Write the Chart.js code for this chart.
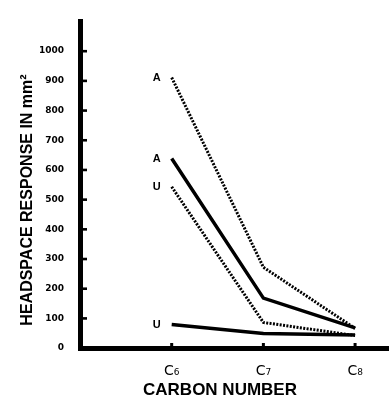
<!DOCTYPE html>
<html><head><meta charset="utf-8">
<script src="https://cdn.jsdelivr.net/npm/chart.js@4"></script>
<style>html,body{margin:0;padding:0;background:#fff}#wrap{width:389px;height:400px}</style>
</head><body><div id="wrap"><canvas id="c"></canvas></div>
<script>
const carbonNumbers = [6, 7, 8];
const carbonLabels = ['C\u2086', 'C\u2087', 'C\u2088'];
const aDotted = [911, 272, 66];
const aSolid = [638, 168, 68];
const uDotted = [543, 86, 42];
const uSolid = [79, 49, 44];
const seriesLetters = ['A', 'A', 'U', 'U'];
const yTicks = [0,100,200,300,400,500,600,700,800,900,1000];
const yTitle = 'HEADSPACE RESPONSE IN mm\u00B2';
const xTitle = 'CARBON NUMBER';

function pts(v){ return carbonNumbers.map((c,i)=>({x:c,y:v[i]})); }
const F = "'Liberation Sans', Arial, sans-serif";
const FD = "'DejaVu Sans', sans-serif";

const tickPlugin = {
  id:'tickPlugin',
  afterDraw(chart){
    const ctx = chart.ctx, ys = chart.scales.y, xs = chart.scales.x, a = chart.chartArea;
    ctx.save();
    ctx.fillStyle = '#000';
    yTicks.forEach(v=>{ if(v===0) return; const y = ys.getPixelForValue(v); ctx.fillRect(a.left, y-1.2, 7, 2.6); });
    carbonNumbers.forEach(c=>{ const x = xs.getPixelForValue(c); ctx.fillRect(x-1.5, a.bottom-5, 3, 5); });
    ctx.font = 'bold 11px ' + F;
    ctx.textAlign = 'right'; ctx.textBaseline = 'middle';
    chart.data.datasets.forEach((ds,i)=>{
      const p = ds.data[0];
      ctx.fillText(seriesLetters[i], xs.getPixelForValue(p.x) - 11, ys.getPixelForValue(p.y));
    });
    // axis titles
    ctx.textAlign = 'center';
    ctx.font = 'bold 17px ' + F;
    ctx.fillText(xTitle, 220, 390);
    ctx.translate(28, 200);
    ctx.rotate(-Math.PI/2);
    ctx.font = 'bold 16px ' + F;
    ctx.fillText(yTitle, 0, 0);
    ctx.restore();
  }
};

new Chart(document.getElementById('c'), {
  type:'line',
  data:{ datasets:[
    {label:'A dotted', data:pts(aDotted), borderColor:'#000', borderWidth:3, borderDash:[2,1.4], pointRadius:0, tension:0},
    {label:'A solid', data:pts(aSolid), borderColor:'#000', borderWidth:3.5, pointRadius:0, tension:0},
    {label:'U dotted', data:pts(uDotted), borderColor:'#000', borderWidth:3, borderDash:[2,1.4], pointRadius:0, tension:0},
    {label:'U solid', data:pts(uSolid), borderColor:'#000', borderWidth:3.5, pointRadius:0, tension:0}
  ]},
  options:{
    responsive:true, maintainAspectRatio:false, animation:false,
    layout:{padding:{top:14,right:0,left:0,bottom:0}},
    plugins:{legend:{display:false}, tooltip:{enabled:false}},
    scales:{
      x:{ type:'linear', min:5.0, max:8.37,
        afterBuildTicks(s){ s.ticks = carbonNumbers.map(v=>({value:v})); },
        afterFit(s){ s.height = 52; },
        grid:{display:true, drawOnChartArea:false, drawTicks:false},
        border:{display:true, width:5, color:'#000'},
        ticks:{ padding:15, color:'#000', font:{family:FD, size:14}, 
          callback:(v)=>{ const i = carbonNumbers.indexOf(v); return i>=0 ? carbonLabels[i] : ''; } },
        title:{display:false}
      },
      y:{ min:0, max:1100,
        afterBuildTicks(s){ s.ticks = yTicks.map(v=>({value:v})); },
        afterFit(s){ s.width = 80; },
        grid:{display:true, drawOnChartArea:false, drawTicks:false},
        border:{display:true, width:5, color:'#000'},
        ticks:{ padding:16, color:'#000', font:{family:FD, size:9, weight:'bold'}, callback:(v)=>String(v) },
        title:{display:false}
      }
    }
  },
  plugins:[tickPlugin]
});
</script></body></html>
